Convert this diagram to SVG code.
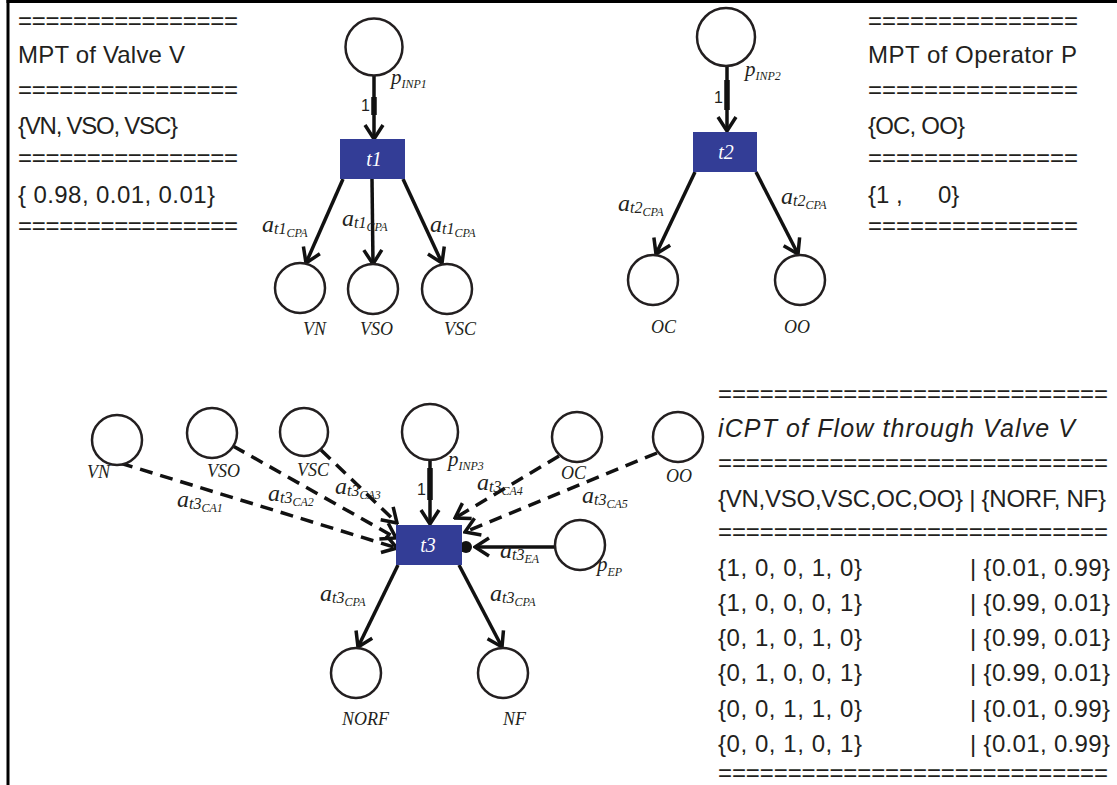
<svg xmlns="http://www.w3.org/2000/svg" width="1117" height="785" viewBox="0 0 1117 785">
<style>
.t{font-family:"Liberation Sans",Arial,sans-serif;font-size:24px;fill:#231f20}
.ti{font-style:italic;font-size:25px}
.pl{fill:#fff;stroke:#231f20;stroke-width:2.5}
.tr{fill:#333d96}
.tl{font-family:"Liberation Serif",serif;font-style:italic;font-size:20px;fill:#fff;text-anchor:middle}
.nl{font-family:"Liberation Serif",serif;font-style:italic;font-size:18px;fill:#231f20}
.pn{font-size:21px}.ps{font-size:12px}
.al{font-family:"Liberation Serif","DejaVu Serif",serif;font-style:italic;fill:#231f20}
.a{font-size:24px}.s1{font-size:16px}.s2{font-size:12px}
.one{font-family:"Liberation Sans",Arial,sans-serif;font-size:16px;fill:#231f20}
.arc{stroke:#111;stroke-width:3.5;fill:none;marker-end:url(#arr)}
.dash{stroke-dasharray:13 8}
.thick{stroke:#111;stroke-width:5.5}
.brd{stroke:#000;stroke-width:3}
</style>
<defs>
<marker id="arr" viewBox="0 0 18 22" refX="16" refY="11" markerWidth="18" markerHeight="22" markerUnits="userSpaceOnUse" orient="auto">
<path d="M2,2 L16,11 L2,20" fill="none" stroke="#111" stroke-width="3.5"/>
</marker>
</defs>
<rect width="1117" height="785" fill="#fff"/>
<g id="border">
<line class="brd" x1="6.5" y1="1.5" x2="1117" y2="1.5"/>
<line class="brd" x1="8" y1="0" x2="8" y2="785"/>
</g>

<g id="mpt-valve">
<text class="t" x="18" y="29" textLength="220">================</text>
<text class="t" x="18" y="63" textLength="167">MPT of Valve V</text>
<text class="t" x="18" y="98" textLength="220">================</text>
<text class="t" x="18" y="134" textLength="160">{VN, VSO, VSC}</text>
<text class="t" x="18" y="166" textLength="220">================</text>
<text class="t" x="18" y="203" textLength="197">{ 0.98, 0.01, 0.01}</text>
<text class="t" x="18" y="234" textLength="220">================</text>
</g>

<g id="mpt-operator">
<text class="t" x="868" y="29" textLength="210">===============</text>
<text class="t" x="868" y="63" textLength="209">MPT of Operator P</text>
<text class="t" x="868" y="98" textLength="210">===============</text>
<text class="t" x="868" y="134" textLength="97">{OC, OO}</text>
<text class="t" x="868" y="166" textLength="210">===============</text>
<text class="t" x="868" y="203">{1 ,</text>
<text class="t" x="938" y="203">0}</text>
<text class="t" x="868" y="234" textLength="210">===============</text>
</g>

<g id="icpt">
<text class="t" x="718" y="402" textLength="390">============================</text>
<text class="t ti" x="718" y="437" textLength="357">iCPT of Flow through Valve V</text>
<text class="t" x="718" y="471" textLength="390">============================</text>
<text class="t" x="718" y="507" textLength="388">{VN,VSO,VSC,OC,OO} | {NORF, NF}</text>
<text class="t" x="718" y="540" textLength="390">============================</text>
<text class="t" x="718" y="576" textLength="144">{1, 0, 0, 1, 0}</text>
<text class="t" x="970" y="576" textLength="140">| {0.01, 0.99}</text>
<text class="t" x="718" y="611" textLength="144">{1, 0, 0, 0, 1}</text>
<text class="t" x="970" y="611" textLength="140">| {0.99, 0.01}</text>
<text class="t" x="718" y="646" textLength="144">{0, 1, 0, 1, 0}</text>
<text class="t" x="970" y="646" textLength="140">| {0.99, 0.01}</text>
<text class="t" x="718" y="681" textLength="144">{0, 1, 0, 0, 1}</text>
<text class="t" x="970" y="681" textLength="140">| {0.99, 0.01}</text>
<text class="t" x="718" y="717" textLength="144">{0, 0, 1, 1, 0}</text>
<text class="t" x="970" y="717" textLength="140">| {0.01, 0.99}</text>
<text class="t" x="718" y="752" textLength="144">{0, 0, 1, 0, 1}</text>
<text class="t" x="970" y="752" textLength="140">| {0.01, 0.99}</text>
<text class="t" x="718" y="781" textLength="390">============================</text>
</g>

<g id="connectors">
<line class="arc" x1="374" y1="75" x2="374" y2="139"/>
<line class="thick" x1="374" y1="97" x2="374" y2="115"/>
<line class="arc" x1="343" y1="179" x2="306" y2="263"/>
<line class="arc" x1="372" y1="179" x2="373" y2="264"/>
<line class="arc" x1="403" y1="179" x2="442" y2="263"/>

<line class="arc" x1="727" y1="66" x2="727" y2="131"/>
<line class="thick" x1="727" y1="80" x2="727" y2="110"/>
<line class="arc" x1="695" y1="172" x2="656" y2="254"/>
<line class="arc" x1="756" y1="172" x2="798" y2="254"/>

<line class="arc" x1="430" y1="460" x2="430" y2="524"/>
<line class="thick" x1="430" y1="468" x2="430" y2="500"/>
<line class="arc dash" x1="120" y1="463" x2="397" y2="548"/>
<line class="arc dash" x1="233" y1="446" x2="396" y2="538"/>
<line class="arc dash" x1="321" y1="450" x2="397" y2="523"/>
<line class="arc dash" x1="559" y1="456" x2="455" y2="518"/>
<line class="arc dash" x1="657" y1="453" x2="465" y2="532"/>
<line class="arc" x1="555" y1="547" x2="475" y2="547"/>
<circle cx="466" cy="547" r="6" fill="#111"/>
<line class="arc" x1="398" y1="565" x2="358" y2="647"/>
<line class="arc" x1="459" y1="565" x2="502" y2="647"/>

<text class="one" x="361" y="111">1</text>
<text class="one" x="714" y="103">1</text>
<text class="one" x="417" y="495">1</text>

<text class="al" x="262" y="232"><tspan class="a">a</tspan><tspan class="s1" dy="2">t1</tspan><tspan class="s2" dy="3">CPA</tspan></text>
<text class="al" x="342" y="226"><tspan class="a">a</tspan><tspan class="s1" dy="2">t1</tspan><tspan class="s2" dy="3">CPA</tspan></text>
<text class="al" x="430" y="232"><tspan class="a">a</tspan><tspan class="s1" dy="2">t1</tspan><tspan class="s2" dy="3">CPA</tspan></text>
<text class="al" x="618" y="211"><tspan class="a">a</tspan><tspan class="s1" dy="2">t2</tspan><tspan class="s2" dy="3">CPA</tspan></text>
<text class="al" x="781" y="204"><tspan class="a">a</tspan><tspan class="s1" dy="2">t2</tspan><tspan class="s2" dy="3">CPA</tspan></text>
<text class="al" x="177" y="507"><tspan class="a">a</tspan><tspan class="s1" dy="2">t3</tspan><tspan class="s2" dy="3">CA1</tspan></text>
<text class="al" x="268" y="501"><tspan class="a">a</tspan><tspan class="s1" dy="2">t3</tspan><tspan class="s2" dy="3">CA2</tspan></text>
<text class="al" x="335" y="494"><tspan class="a">a</tspan><tspan class="s1" dy="2">t3</tspan><tspan class="s2" dy="3">CA3</tspan></text>
<text class="al" x="477" y="490"><tspan class="a">a</tspan><tspan class="s1" dy="2">t3</tspan><tspan class="s2" dy="3">CA4</tspan></text>
<text class="al" x="582" y="503"><tspan class="a">a</tspan><tspan class="s1" dy="2">t3</tspan><tspan class="s2" dy="3">CA5</tspan></text>
<text class="al" x="500" y="558"><tspan class="a">a</tspan><tspan class="s1" dy="2">t3</tspan><tspan class="s2" dy="3">EA</tspan></text>
<text class="al" x="320" y="601"><tspan class="a">a</tspan><tspan class="s1" dy="2">t3</tspan><tspan class="s2" dy="3">CPA</tspan></text>
<text class="al" x="490" y="601"><tspan class="a">a</tspan><tspan class="s1" dy="2">t3</tspan><tspan class="s2" dy="3">CPA</tspan></text>
</g>

<g id="p-inp1"><circle class="pl" cx="374" cy="47" r="28.5"/><text class="nl pn" x="391" y="84">p<tspan class="ps" dy="4">INP1</tspan></text></g>
<g id="t1"><rect class="tr" x="340" y="139" width="65" height="40"/><text class="tl" x="374" y="166">t1</text></g>
<g id="vn1"><circle class="pl" cx="300" cy="288" r="25"/><text class="nl" x="303" y="335">VN</text></g>
<g id="vso1"><circle class="pl" cx="373" cy="289" r="25"/><text class="nl" x="360" y="335">VSO</text></g>
<g id="vsc1"><circle class="pl" cx="447" cy="289" r="25"/><text class="nl" x="444" y="335">VSC</text></g>

<g id="p-inp2"><circle class="pl" cx="726" cy="37" r="29"/><text class="nl pn" x="745" y="76">p<tspan class="ps" dy="4">INP2</tspan></text></g>
<g id="t2"><rect class="tr" x="693" y="132" width="64" height="40"/><text class="tl" x="726" y="159">t2</text></g>
<g id="oc1"><circle class="pl" cx="653" cy="280" r="25"/><text class="nl" x="651" y="333">OC</text></g>
<g id="oo1"><circle class="pl" cx="800" cy="280" r="25"/><text class="nl" x="784" y="333">OO</text></g>

<g id="vn3"><circle class="pl" cx="117" cy="440" r="25"/><text class="nl" x="87" y="478">VN</text></g>
<g id="vso3"><circle class="pl" cx="212" cy="433" r="25"/><text class="nl" x="207" y="477">VSO</text></g>
<g id="vsc3"><circle class="pl" cx="304" cy="432" r="24"/><text class="nl" x="297" y="476">VSC</text></g>
<g id="p-inp3"><circle class="pl" cx="430" cy="432" r="28"/><text class="nl pn" x="448" y="466">p<tspan class="ps" dy="4">INP3</tspan></text></g>
<g id="oc3"><circle class="pl" cx="577" cy="437" r="25"/><text class="nl" x="561" y="479">OC</text></g>
<g id="oo3"><circle class="pl" cx="678" cy="437" r="25"/><text class="nl" x="666" y="482">OO</text></g>
<g id="t3"><rect class="tr" x="396" y="525" width="66" height="40"/><text class="tl" x="428" y="552">t3</text></g>
<g id="p-ep"><circle class="pl" cx="580" cy="545" r="25"/><text class="nl pn" x="597" y="571">p<tspan class="ps" dy="5">EP</tspan></text></g>
<g id="norf"><circle class="pl" cx="356" cy="673" r="25"/><text class="nl" x="342" y="725">NORF</text></g>
<g id="nf"><circle class="pl" cx="503" cy="673" r="25"/><text class="nl" x="503" y="725">NF</text></g>
</svg>
